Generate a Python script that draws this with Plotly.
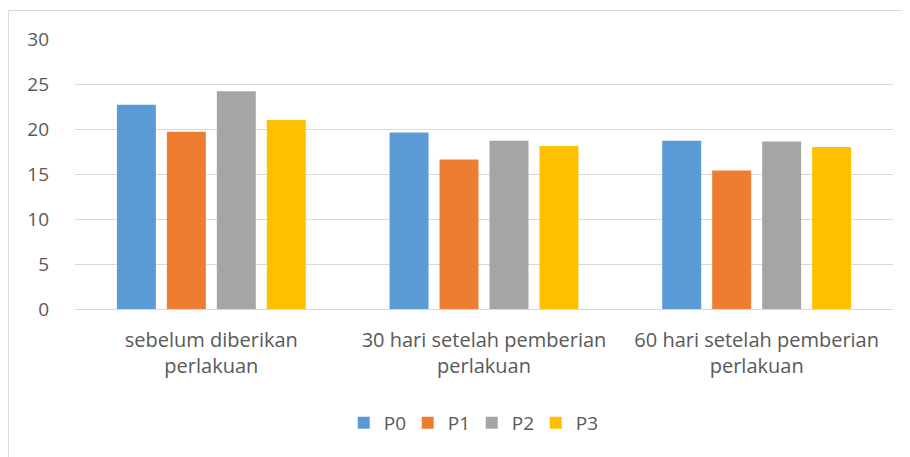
import plotly.graph_objects as go

categories = ["sebelum diberikan<br>perlakuan", "30 hari setelah pemberian<br>perlakuan", "60 hari setelah pemberian<br>perlakuan"]
series_names = ["P0", "P1", "P2", "P3"]
p0 = [22.7, 19.6, 18.7]
p1 = [19.7, 16.6, 15.4]
p2 = [24.2, 18.7, 18.6]
p3 = [21.0, 18.1, 18.0]
colors = ["#5B9BD5", "#ED7D31", "#A5A5A5", "#FFC000"]

fig = go.Figure()
for name, vals, c in zip(series_names, [p0, p1, p2, p3], colors):
    fig.add_trace(go.Bar(name=name, x=categories, y=vals, marker=dict(color=c, line=dict(width=0))))

FONT = "Open Sans, Lato, sans-serif"
L, T, W, H = 67, 31, 818, 270
fig.update_layout(
    width=910, height=457,
    margin=dict(l=L, r=910 - L - W, t=T, b=457 - T - H, autoexpand=False),
    paper_bgcolor="white", plot_bgcolor="white",
    barmode="group", bargap=0.267, bargroupgap=0.22,
    font=dict(family=FONT, size=19, color="#595959"),
    showlegend=True,
    legend=dict(orientation="h", x=0.485, xanchor="center", y=-0.422, yanchor="middle",
                font=dict(family=FONT, size=19, color="#595959"), entrywidth=19,
                traceorder="normal", itemwidth=30),
    xaxis=dict(showgrid=False, showline=False, ticks="", ticklabelstandoff=17,
               tickfont=dict(family=FONT, size=20, color="#595959")),
    yaxis=dict(range=[0, 30], dtick=5, showgrid=True, gridcolor="#D9D9D9", gridwidth=1,
               zeroline=True, zerolinecolor="#D9D9D9", zerolinewidth=1,
               showline=False, ticks="", ticklabelstandoff=25,
               tickfont=dict(family=FONT, size=19, color="#595959")),
    shapes=[dict(type="rect", xref="paper", yref="paper",
                 x0=(0.5 - L) / W, x1=(930 - L) / W,
                 y0=(T + H - 480) / H, y1=(T + H - 2.5) / H,
                 line=dict(color="#D9D9D9", width=1), fillcolor="rgba(0,0,0,0)", layer="above")],
)

fig.write_html("out.html")
